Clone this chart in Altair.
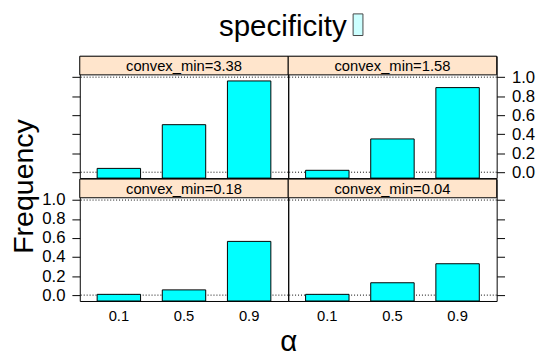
import altair as alt
import pandas as pd

# ---- data ----
alpha_levels = ["0.1", "0.5", "0.9"]
convex_min = ["3.38", "1.58", "0.18", "0.04"]
freq_3_38 = [0.04, 0.50, 0.96]
freq_1_58 = [0.02, 0.35, 0.89]
freq_0_18 = [0.008, 0.055, 0.565]
freq_0_04 = [0.008, 0.13, 0.33]
ref_levels = [0.0, 1.0]
y_tick_values = [0.0, 0.2, 0.4, 0.6, 0.8, 1.0]
main_title = ["specificity"]

series = [freq_3_38, freq_1_58, freq_0_18, freq_0_04]

FONT = "Liberation Sans"
W, H, STRIP = 212, 124, 19
Y_DOMAIN = [-0.062, 1.024]


def make_panel(i):
    top_row = i < 2
    left_col = i % 2 == 0
    show_labels = i in (1, 2)
    df = pd.DataFrame({"alpha": alpha_levels, "freq": series[i]})
    x_scale = alt.Scale(domain=alpha_levels, paddingInner=1 / 3, paddingOuter=0.2667)
    y_scale = alt.Scale(domain=Y_DOMAIN, range=[H, STRIP], nice=False, zero=False)

    y_kw = dict(
        orient="left" if left_col else "right",
        values=y_tick_values, format=".1f", labels=show_labels,
        ticks=True, tickSize=8, tickColor="black", tickWidth=1,
        domain=False, grid=False, labelFont=FONT, labelFontSize=17,
        labelColor="black", labelPadding=7, labelOverlap=False, title=None,
    )
    if i == 2:
        y_kw.update(title="Frequency", titleFont=FONT, titleFontSize=29,
                    titleFontWeight="normal", titleColor="black",
                    titleX=-42, titleY=7, titleAngle=270,
                    titleBaseline="bottom", titleAlign="center")
    y_axis = alt.Axis(**y_kw)

    if top_row:
        x_axis = None
    else:
        x_kw = dict(orient="bottom", ticks=False, domain=False, labelAngle=0,
                    labelFont=FONT, labelFontSize=15, labelColor="black",
                    labelPadding=8, grid=False, title=None)
        if i == 2:
            x_kw.update(title="α", titleFont=FONT, titleFontSize=30,
                        titleFontWeight="normal", titleColor="black",
                        titleX=W, titleY=50, titleBaseline="alphabetic",
                        titleAlign="center")
        x_axis = alt.Axis(**x_kw)

    rules = alt.Chart(pd.DataFrame({"ref": ref_levels})).mark_rule(
        color="black", strokeDash=[1, 2], strokeWidth=1
    ).encode(y=alt.Y("ref:Q", scale=y_scale, axis=y_axis))

    bars = alt.Chart(df).mark_bar(
        fill="#00ffff", stroke="black", strokeWidth=1
    ).encode(
        x=alt.X("alpha:N", scale=x_scale, axis=x_axis, sort=alpha_levels),
        y=alt.Y("freq:Q", scale=y_scale, axis=y_axis),
        y2=alt.datum(Y_DOMAIN[0]),
    )

    strip_df = pd.DataFrame({"label": [f"convex_min={convex_min[i]}"]})
    strip_rect = alt.Chart(strip_df).mark_rect(
        fill="#ffe5cc", stroke="black", strokeWidth=1
    ).encode(x=alt.value(0), x2=alt.value(W), y=alt.value(0), y2=alt.value(STRIP))
    strip_text = alt.Chart(strip_df).mark_text(
        font=FONT, fontSize=15, color="black", baseline="middle", align="center"
    ).encode(x=alt.value(W / 2), y=alt.value(STRIP / 2 + 0.5), text="label:N")

    layers = [rules, bars, strip_rect, strip_text]
    if i == 0:
        title_txt = alt.Chart(pd.DataFrame({"t": main_title})).mark_text(
            font=FONT, fontSize=30, color="black", baseline="top", align="center"
        ).encode(x=alt.value(W - 5.5), y=alt.value(-45), text="t:N")
        layers.append(title_txt)
    if i == 1:
        key = alt.Chart(pd.DataFrame({"k": main_title})).mark_rect(
            fill="#ccffff", stroke="#444444", strokeWidth=1
        ).encode(x=alt.value(66), x2=alt.value(76), y=alt.value(-43), y2=alt.value(-21))
        layers.append(key)
    return alt.layer(*layers).properties(width=W, height=H)


panels = [make_panel(i) for i in range(4)]

chart = alt.concat(
    *panels,
    columns=2,
    spacing={"row": 1, "column": 0},
    bounds="flush",
    padding={"left": 1, "top": 0, "right": 0, "bottom": 0},
).configure_view(stroke="black", strokeWidth=1)

chart.save("out.html", embed_options={"renderer": "svg", "actions": False})
